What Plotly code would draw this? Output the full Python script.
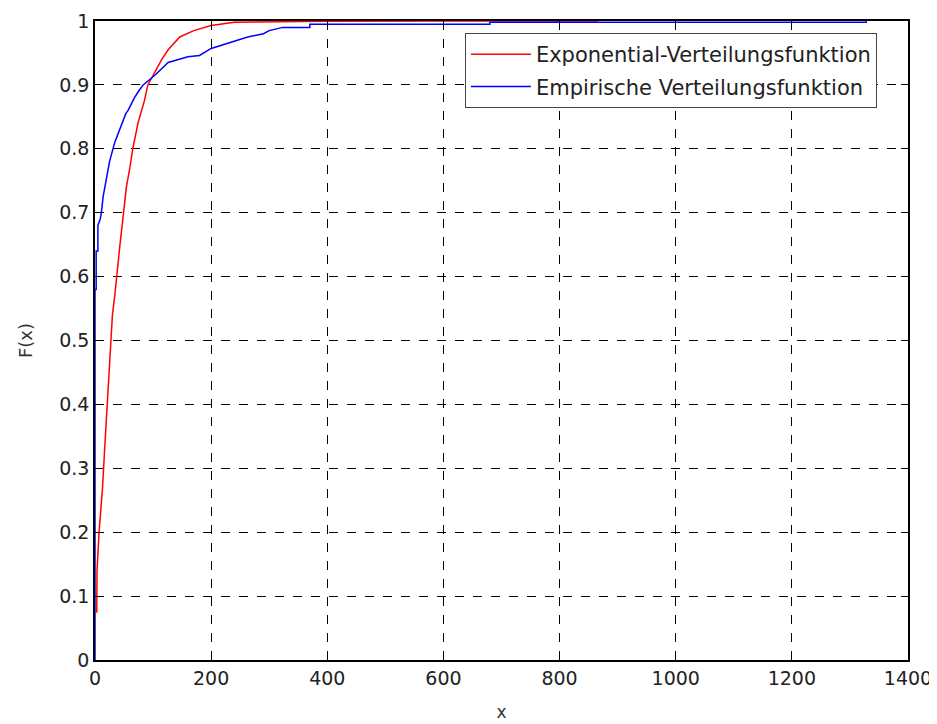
import plotly.graph_objects as go

# Exponential distribution function
exp_x = [3, 3.5, 7, 9, 13, 16, 19, 23, 27, 30, 34, 37, 43, 48, 54, 60, 65, 74, 85, 91,
         103, 115, 126, 146, 170, 200, 240, 400, 600, 866]
exp_F = [0.074, 0.14, 0.20, 0.22, 0.27, 0.32, 0.37, 0.44, 0.50, 0.54, 0.57, 0.60, 0.65,
         0.69, 0.74, 0.77, 0.80, 0.84, 0.875, 0.90, 0.92, 0.94, 0.955, 0.975, 0.985,
         0.993, 0.998, 0.9995, 1.0, 1.0]

emp_x = [0, 0, 2, 2, 5, 5, 9, 11, 14, 19, 25, 34, 45, 53, 57, 68, 75, 83, 103, 126,
         160, 180, 200, 230, 263, 290, 300, 323, 370, 370, 680, 680, 1328, 1328]
emp_F = [0, 0.58, 0.58, 0.64, 0.64, 0.68, 0.69, 0.70, 0.725, 0.75, 0.78, 0.81, 0.835,
         0.855, 0.86, 0.88, 0.89, 0.90, 0.915, 0.935, 0.944, 0.946, 0.957, 0.965,
         0.975, 0.98, 0.985, 0.99, 0.99, 0.995, 0.995, 0.998, 0.998, 1.0]

x_ticks = [0, 200, 400, 600, 800, 1000, 1200, 1400]
y_ticks = [0, 0.1, 0.2, 0.3, 0.4, 0.5, 0.6, 0.7, 0.8, 0.9, 1]
y_labels = ["0", "0.1", "0.2", "0.3", "0.4", "0.5", "0.6", "0.7", "0.8", "0.9", "1"]

FONT = "DejaVu Sans"

fig = go.Figure()
fig.add_trace(go.Scatter(x=exp_x, y=exp_F, mode="lines", name="Exponential-Verteilungsfunktion",
                         legendgroup="a", line=dict(color="#ff0000", width=1.5)))
fig.add_trace(go.Scatter(x=emp_x, y=emp_F, mode="lines", name="Empirische Verteilungsfunktion",
                         legendgroup="b", line=dict(color="#0000ff", width=1.5)))

axis_common = dict(showline=True, linecolor="black", linewidth=1.5, mirror="ticks",
                   ticks="inside", ticklen=7, tickcolor="black", automargin=False,
                   showgrid=True, gridcolor="black", gridwidth=1, griddash="dash",
                   zeroline=False, tickfont=dict(family=FONT, size=19, color="#222"))

fig.update_xaxes(range=[0, 1400], tickvals=x_ticks, ticktext=[str(v) for v in x_ticks],
                 title=dict(text="x", font=dict(family=FONT, size=17, color="#333"),
                            standoff=19),
                 **axis_common)
fig.update_yaxes(range=[0, 1], tickvals=y_ticks, ticktext=y_labels,
                 title=dict(text="F(x)", font=dict(family=FONT, size=18, color="#333"),
                            standoff=22),
                 **axis_common)

fig.update_layout(
    width=929, height=716,
    margin=dict(l=87, r=29, t=13, b=64),
    paper_bgcolor="white", plot_bgcolor="white",
    showlegend=True,
    legend=dict(x=0.455, y=0.981, xanchor="left", yanchor="top",
                bgcolor="white", bordercolor="#444", borderwidth=1,
                font=dict(family=FONT, size=21, color="#222"),
                traceorder="grouped", tracegroupgap=2, itemwidth=60),
)

fig.write_html("out.html")
